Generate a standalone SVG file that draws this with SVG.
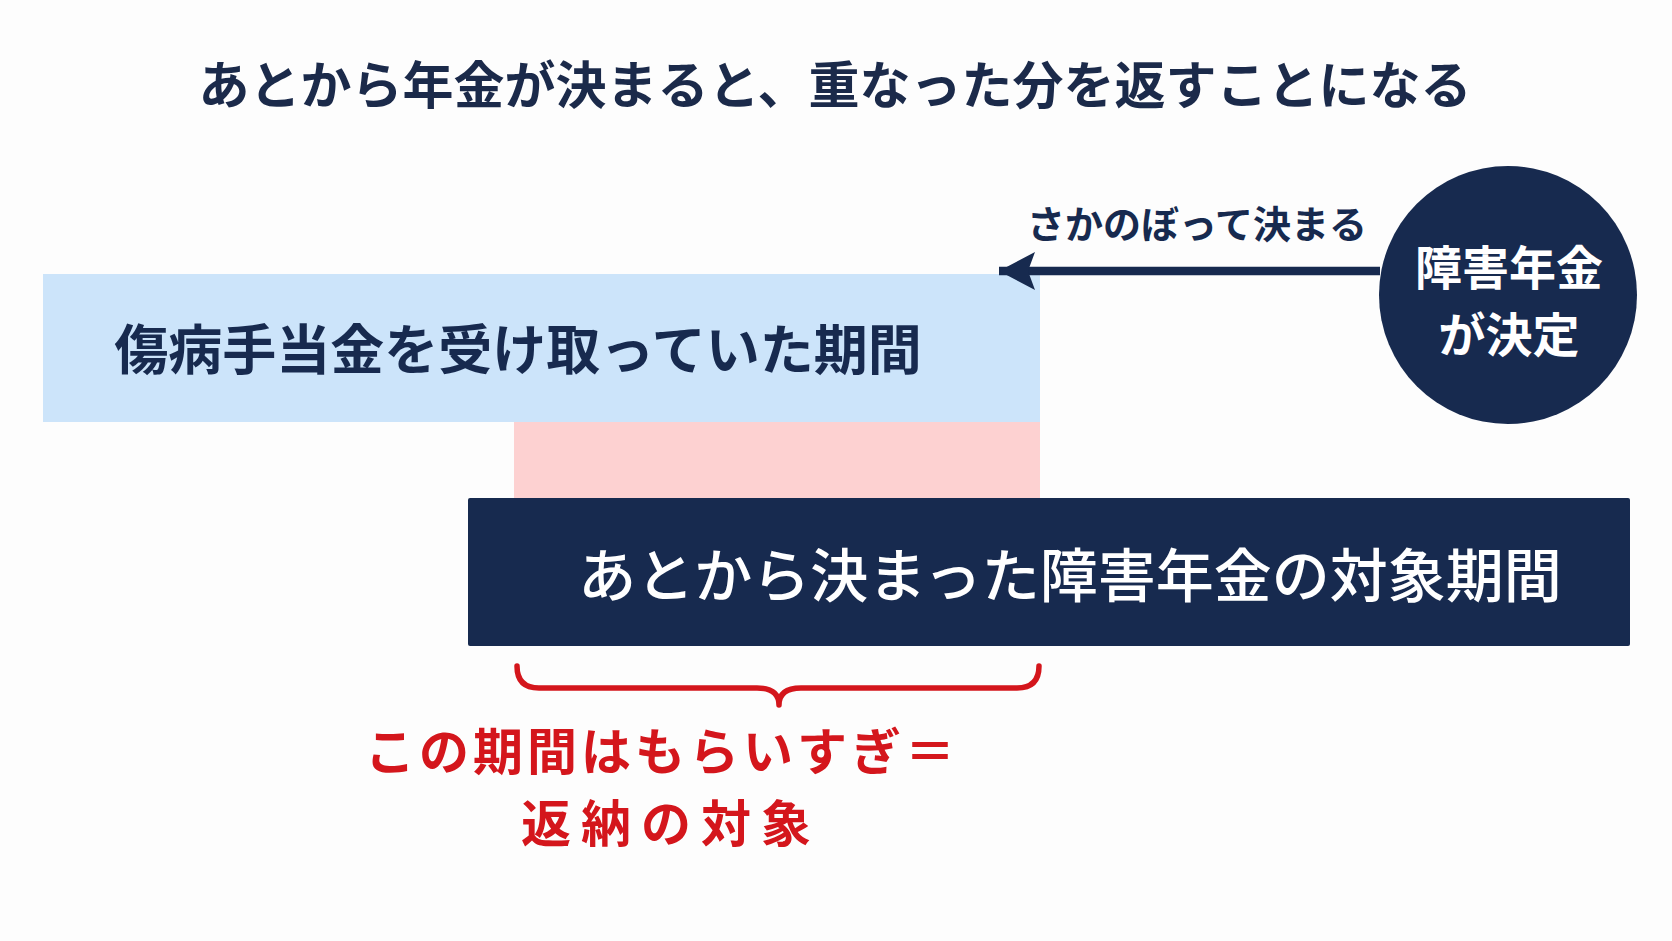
<svg xmlns="http://www.w3.org/2000/svg" width="1672" height="941" viewBox="0 0 1672 941">
<defs>
<style>
text{font-family:"Noto Sans CJK JP","Noto Sans",sans-serif;}
.title{font-size:51px;font-weight:700;fill:#1b2a4a;}
.lbl{font-size:54px;font-weight:700;fill:#172a4f;}
.wlbl{font-size:58px;font-weight:500;fill:#ffffff;}
.ctext{font-size:47px;font-weight:700;fill:#ffffff;}
.small{font-size:38px;font-weight:700;fill:#172a4f;}
.red{font-size:50px;font-weight:700;fill:#d4161c;}
</style>
<marker id="ah" markerUnits="userSpaceOnUse" markerWidth="44" markerHeight="44" viewBox="0 0 44 44" refX="42" refY="22" orient="auto">
<path d="M42 22 L6 3 L13 22 L6 41 Z" fill="#172a4f"/>
</marker>
</defs>
<rect width="1672" height="941" fill="#fdfdfd"/>
<text class="title" x="835" y="104" text-anchor="middle">あとから年金が決まると、重なった分を返すことになる</text>
<g id="overlap">
<rect x="514" y="422" width="526" height="76" fill="#fdd1d1"/>
</g>
<g id="sickness-period">
<rect x="43" y="274" width="997" height="148" fill="#cce4fa"/>
<text class="lbl" x="518" y="370" text-anchor="middle">傷病手当金を受け取っていた期間</text>
</g>
<g id="pension-period">
<rect x="468" y="498" width="1162" height="148" fill="#172a4f" rx="2"/>
<text class="wlbl" x="1070" y="597" text-anchor="middle">あとから決まった障害年金の対象期間</text>
</g>
<g id="decision">
<circle cx="1508" cy="295" r="129" fill="#172a4f"/>
<text class="ctext" x="1509" y="285" text-anchor="middle">障害年金</text>
<text class="ctext" x="1509" y="352" text-anchor="middle">が決定</text>
</g>
<g id="connectors">
<line x1="1380" y1="271" x2="999" y2="271" stroke="#172a4f" stroke-width="8.5" marker-end="url(#ah)"/>
<text class="small" x="1197" y="238" text-anchor="middle">さかのぼって決まる</text>
<path d="M517 666 Q517 688 539 688 L757 688 Q779 688 779 705 Q779 688 801 688 L1017 688 Q1039 688 1039 666" fill="none" stroke="#d4161c" stroke-width="5.5" stroke-linecap="round" stroke-linejoin="round"/>
</g>
<g id="note">
<text class="red" x="662" y="770" text-anchor="middle" letter-spacing="4">この期間はもらいすぎ＝</text>
<text class="red" x="671" y="842" text-anchor="middle" letter-spacing="10">返納の対象</text>
</g>
</svg>
